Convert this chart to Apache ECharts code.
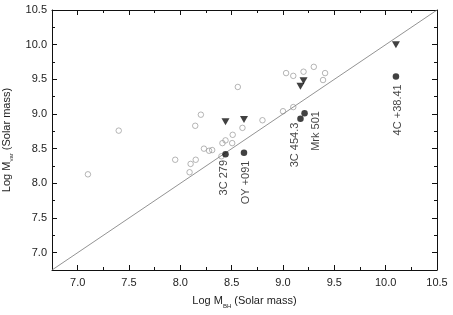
<!DOCTYPE html>
<html><head><meta charset="utf-8">
<script src="https://cdn.jsdelivr.net/npm/echarts@6/dist/echarts.min.js"></script>
<style>html,body{margin:0;padding:0;background:#fff}#c{width:453px;height:315px}</style>
</head><body><div id="c"></div>
<script>
// ---- data ----
var openX = [7.10, 7.40, 7.95, 8.09, 8.10, 8.15, 8.145, 8.20, 8.23, 8.28, 8.31, 8.41, 8.44, 8.40, 8.51, 8.505, 8.56, 8.605, 8.80, 9.00, 9.03, 9.10, 9.10, 9.20, 9.30, 9.41, 9.39];
var openY = [8.13, 8.76, 8.34, 8.16, 8.28, 8.34, 8.83, 8.99, 8.50, 8.47, 8.48, 8.58, 8.62, 8.39, 8.70, 8.58, 9.39, 8.80, 8.91, 9.04, 9.59, 9.55, 9.10, 9.61, 9.68, 9.59, 9.49];
var filledNames = ['3C 279', 'OY +091', '3C 454.3', 'Mrk 501', '4C +38.41'];
var filledX = [8.44, 8.62, 9.17, 9.21, 10.10];
var filledY = [8.42, 8.44, 8.93, 9.01, 9.54];
var triX = [8.44, 8.62, 9.17, 9.20, 10.10];
var triY = [8.89, 8.92, 9.40, 9.48, 10.00];
var lineX = [6.75, 10.5];
var lineY = [6.75, 10.5];
var tickLabels = [7.0, 7.5, 8.0, 8.5, 9.0, 9.5, 10.0, 10.5];

// ---- styles ----
var FONT = "'Liberation Sans', Arial, sans-serif";
var labelPos = {
  '3C 279': [2, 9], 'OY +091': [5, 11], '3C 454.3': [-2, 7], 'Mrk 501': [15, 1], '4C +38.41': [5, 11]
};
function zip(a, b) { return a.map(function (v, i) { return [v, b[i]]; }); }

function axisSet(dim, pos, showLine, major, showLabels, nameObj) {
  var a = {
    type: 'value', position: pos, min: 6.75, max: 10.5,
    splitLine: { show: false },
    axisLine: { show: showLine, onZero: false, lineStyle: { color: '#111', width: 1 } },
    axisTick: { show: true, inside: true, length: major ? 5 : 3, lineStyle: { color: '#111', width: 1 } },
    axisLabel: { show: false }
  };
  if (major) {
    a.axisTick.customValues = tickLabels;
    a.axisLine = { show: false };
  } else {
    a.interval = 0.25;
  }
  if (showLabels) {
    a.axisLabel = {
      show: true, customValues: tickLabels, fontFamily: FONT, fontSize: 11, color: '#222',
      margin: dim === 'x' ? 7 : 5, showMinLabel: true, showMaxLabel: true,
      formatter: function (v) { return Number(v).toFixed(1); }
    };
  }
  if (nameObj) Object.assign(a, nameObj);
  return a;
}

var nameRich = {
  a: { fontFamily: FONT, fontSize: 11, color: '#222', lineHeight: 16 },
  s: { fontFamily: FONT, fontSize: 6, color: '#222', lineHeight: 16, verticalAlign: 'bottom' }
};

var option = {
  animation: false,
  backgroundColor: '#fff',
  grid: { left: 52, right: 16, top: 10, bottom: 45, containLabel: false, outerBoundsMode: 'none' },
  xAxis: [
    axisSet('x', 'bottom', true, false, true, {
      name: '{a|Log M}{s|BH}{a| (Solar mass)}', nameLocation: 'middle', nameGap: 23,
      nameTextStyle: { rich: nameRich }
    }),
    axisSet('x', 'bottom', false, true, false),
    axisSet('x', 'top', true, false, false),
    axisSet('x', 'top', false, true, false)
  ],
  yAxis: [
    axisSet('y', 'left', true, false, true, {
      name: '{a|Log M}{s|var}{a| (Solar mass)}', nameLocation: 'middle', nameGap: 30,
      nameTextStyle: { rich: nameRich }
    }),
    axisSet('y', 'left', false, true, false),
    axisSet('y', 'right', true, false, false),
    axisSet('y', 'right', false, true, false)
  ],
  series: [
    {
      type: 'line', data: zip(lineX, lineY), symbol: 'none', silent: true,
      lineStyle: { color: '#777', width: 0.8 }, z: 1
    },
    {
      type: 'scatter', data: zip(openX, openY), symbol: 'circle', symbolSize: 5.5,
      itemStyle: { color: 'rgba(255,255,255,0)', borderColor: '#8c8c8c', borderWidth: 0.8 }, z: 2
    },
    {
      type: 'scatter', data: zip(triX, triY), symbol: 'triangle', symbolSize: [8, 7], symbolRotate: 180,
      itemStyle: { color: '#111' }, z: 3
    },
    {
      type: 'scatter', symbol: 'circle', symbolSize: 6.5, itemStyle: { color: '#111' }, z: 3,
      data: filledNames.map(function (n, i) {
        return {
          name: n, value: [filledX[i], filledY[i]],
          label: {
            show: true, formatter: n, rotate: 90, position: labelPos[n],
            align: 'right', verticalAlign: 'middle',
            fontFamily: FONT, fontSize: 11, color: '#111'
          }
        };
      })
    }
  ]
};
var chart = echarts.init(document.getElementById('c'), null, { renderer: 'canvas' });
chart.setOption(option);
</script></body></html>
